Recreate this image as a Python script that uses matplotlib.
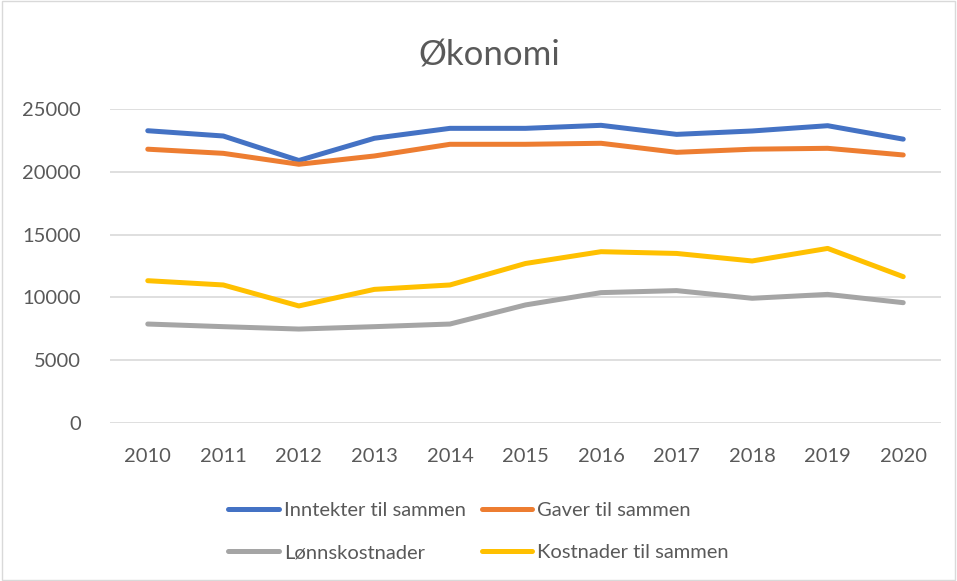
import matplotlib.pyplot as plt
from matplotlib.patches import Rectangle

plt.rcParams['font.family'] = ['Lato', 'DejaVu Sans']

years = [2010, 2011, 2012, 2013, 2014, 2015, 2016, 2017, 2018, 2019, 2020]
inntekter = [23270, 22850, 20900, 22670, 23460, 23460, 23700, 22980, 23250, 23670, 22600]
gaver = [21800, 21470, 20600, 21260, 22190, 22190, 22270, 21550, 21800, 21870, 21340]
lonn = [7880, 7670, 7480, 7670, 7880, 9400, 10380, 10540, 9930, 10240, 9580]
kostnader = [11330, 10990, 9320, 10640, 10990, 12700, 13640, 13500, 12900, 13900, 11650]

series = [
    ('Inntekter til sammen', inntekter, '#4472C4'),
    ('Gaver til sammen', gaver, '#ED7D31'),
    ('Lønnskostnader', lonn, '#A5A5A5'),
    ('Kostnader til sammen', kostnader, '#FFC000'),
]

fig = plt.figure(figsize=(9.57, 5.81), dpi=100)
ax = fig.add_axes([110 / 957, 1 - 423 / 581, 831 / 957, 314 / 581])

x = list(range(len(years)))
lines = []
for name, vals, col in series:
    ln, = ax.plot(x, vals, color=col, linewidth=3.6, label=name, solid_capstyle='round')
    lines.append(ln)

ax.set_xlim(-0.5, len(years) - 0.5)
ax.set_ylim(0, 25000)
ax.set_yticks(range(0, 25001, 5000))
ax.set_xticks(x)
ax.set_xticklabels([str(y) for y in years])
ax.grid(axis='y', color='#d9d9d9', linewidth=1.2)
ax.set_axisbelow(True)
for s in ax.spines.values():
    s.set_visible(False)
ax.tick_params(length=0, labelsize=14.5, colors='#595959')
ax.tick_params(axis='x', pad=18)
ax.tick_params(axis='y', pad=21)

fig.text(0.511, 0.905, 'Økonomi', ha='center', va='center', fontsize=25, color='#595959')

# matplotlib fills legend column-wise, so reorder to get row-wise layout
order = [0, 2, 1, 3]
leg = fig.legend([lines[i] for i in order], [series[i][0] for i in order],
                 loc='upper center', ncol=2, frameon=False,
                 fontsize=14.5, handlelength=2.5, handletextpad=0.25, columnspacing=0.8,
                 labelspacing=1.25, labelcolor='#595959')
leg.set_bbox_to_anchor((0.5, 1 - 484 / 581), transform=fig.transFigure)

fig.patches.append(Rectangle((0.002, 0.002), 0.996, 0.996, transform=fig.transFigure,
                             fill=False, edgecolor='#d9d9d9', linewidth=1))

fig.savefig('out.png', dpi=100)
